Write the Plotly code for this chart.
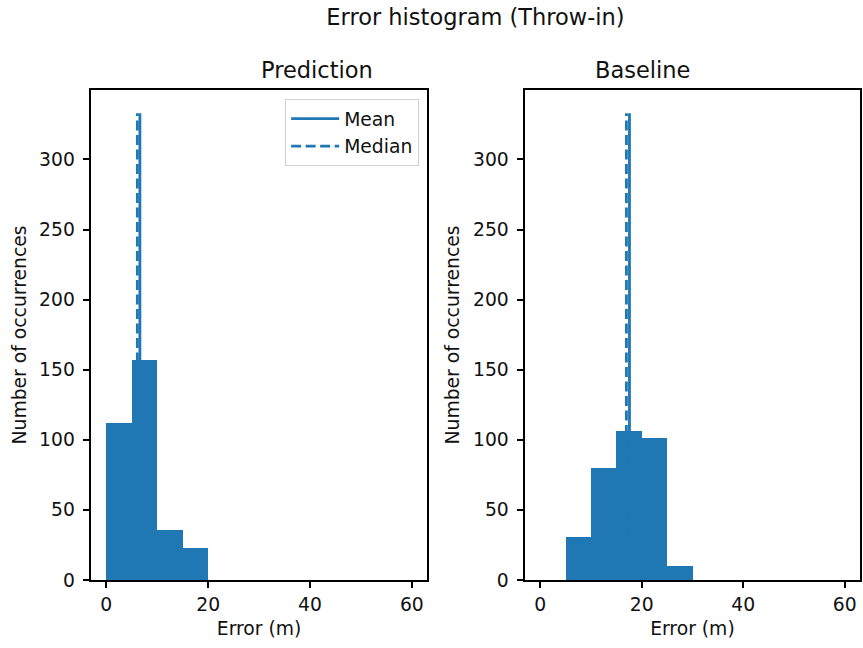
import plotly.graph_objects as go

# Data
bin_edges = [0, 5, 10, 15, 20, 25, 30, 35, 40, 45, 50, 55, 60]
pred_counts = [112, 157, 36, 23, 0, 0, 0, 0, 0, 0, 0, 0]
base_counts = [0, 31, 80, 106, 101, 10, 0, 0, 0, 0, 0, 0]
pred_mean, pred_median = 6.6, 6.1
base_mean, base_median = 17.6, 17.0
line_top = 333
subplot_titles = ["Prediction", "Baseline"]
suptitle = "Error histogram (Throw-in)"
x_ticks = [0, 20, 40, 60]
y_ticks = [0, 50, 100, 150, 200, 250, 300]

BLUE = "#1f77b4"
FONT = "DejaVu Sans"
TXT = "#111111"
FS = 18.75      # 10pt at 135 dpi
FS_T = 22.5     # 12pt at 135 dpi
LW = 2.8
DASH = "10px,4.5px"

centers = [(a + b) / 2 for a, b in zip(bin_edges[:-1], bin_edges[1:])]
widths = [b - a for a, b in zip(bin_edges[:-1], bin_edges[1:])]

fig = go.Figure()

for i, (counts, mean, median) in enumerate(
    [(pred_counts, pred_mean, pred_median), (base_counts, base_mean, base_median)]
):
    xa = "x" if i == 0 else "x2"
    ya = "y" if i == 0 else "y2"
    fig.add_trace(go.Bar(x=centers, y=counts, width=widths, marker=dict(color=BLUE, line=dict(width=0)),
                         xaxis=xa, yaxis=ya, showlegend=False, hoverinfo="skip"))
    fig.add_trace(go.Scatter(x=[mean, mean], y=[0, line_top], mode="lines",
                             line=dict(color=BLUE, width=LW),
                             name="Mean", xaxis=xa, yaxis=ya, showlegend=(i == 0)))
    fig.add_trace(go.Scatter(x=[median, median], y=[0, line_top], mode="lines",
                             line=dict(color=BLUE, width=LW, dash=DASH),
                             name="Median", xaxis=xa, yaxis=ya, showlegend=(i == 0)))

axis_common = dict(
    showline=True, linecolor="black", linewidth=1.5, mirror=True,
    ticks="outside", ticklen=6.6, tickwidth=1.5, tickcolor="black",
    showgrid=False, zeroline=False,
    tickfont=dict(family=FONT, size=FS, color=TXT),
)

W, H = 863, 648
ml, mr, mt, mb = 91, 1, 90, 68
pw = W - ml - mr
ph = H - mt - mb
d1 = [0, (428 - ml) / pw]
d2 = [(526 - ml) / pw, 1]

xt = dict(text="Error (m)", font=dict(family=FONT, size=FS, color=TXT), standoff=8)
yt = dict(text="Number of occurrences", font=dict(family=FONT, size=FS, color=TXT), standoff=8)

fig.update_layout(
    width=W, height=H,
    margin=dict(l=ml, r=mr, t=mt, b=mb),
    plot_bgcolor="white", paper_bgcolor="white",
    bargap=0,
    font=dict(family=FONT, size=FS, color=TXT),
    xaxis=dict(domain=d1, range=[-3, 63], tickvals=x_ticks, anchor="y", title=xt,
               ticklabelstandoff=0, **axis_common),
    yaxis=dict(domain=[0, 1], range=[0, 349.5], tickvals=y_ticks, anchor="x", title=yt,
               ticklabelstandoff=4, **axis_common),
    xaxis2=dict(domain=d2, range=[-3, 63], tickvals=x_ticks, anchor="y2", title=xt,
                ticklabelstandoff=0, **axis_common),
    yaxis2=dict(domain=[0, 1], range=[0, 349.5], tickvals=y_ticks, anchor="x2", title=yt,
                ticklabelstandoff=4, **axis_common),
    legend=dict(x=(420 - ml) / pw, y=1 - (99 - mt) / ph, xanchor="right", yanchor="top",
                bgcolor="rgba(255,255,255,0.8)", bordercolor="#d0d0d0", borderwidth=1,
                font=dict(family=FONT, size=FS, color=TXT), itemwidth=48, tracegroupgap=0),
    title=dict(text=suptitle, x=0.5, xanchor="center", xref="paper", y=1 - 17 / H, yanchor="middle",
               font=dict(family=FONT, size=FS_T, color=TXT)),
)

for t, d in zip(subplot_titles, [d1, d2]):
    fig.add_annotation(text=t, x=(d[0] + d[1]) / 2, y=1, xref="paper", yref="paper",
                       yanchor="bottom", yshift=5, showarrow=False,
                       font=dict(family=FONT, size=FS_T, color=TXT))

fig.write_html("out.html", config={"displayModeBar": False},
               post_script="document.body.style.margin='0';")
